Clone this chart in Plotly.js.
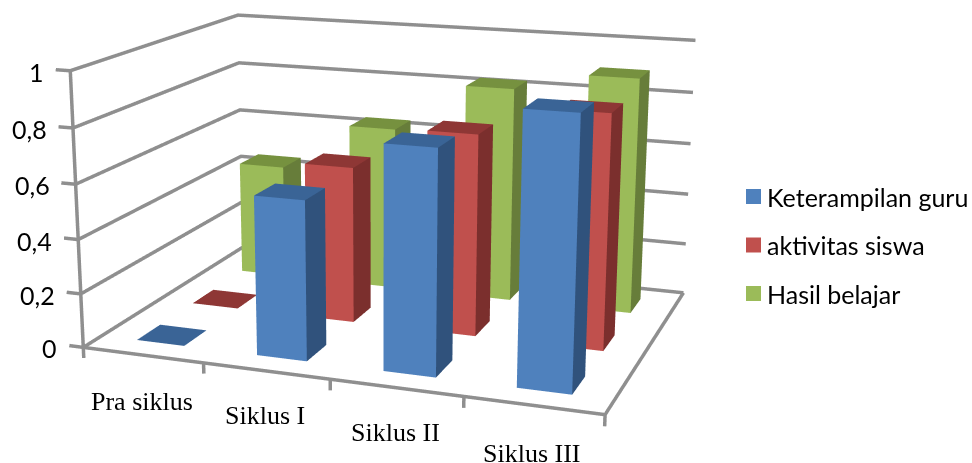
<!DOCTYPE html>
<html>
<head>
<meta charset="utf-8">
<script src="https://cdn.plot.ly/plotly-3.0.1.min.js"></script>
<style>
html,body{margin:0;padding:0;width:972px;height:463px;overflow:hidden;background:#fff}
#chart{position:absolute;left:0;top:-501px;width:972px;height:1432px}
</style>
</head>
<body>
<div id="chart"></div>
<script>
// Chart data
const categories = ['Pra siklus', 'Siklus I', 'Siklus II', 'Siklus III'];
const seriesNames = ['Keterampilan guru', 'aktivitas siswa', 'Hasil belajar'];
const keterampilanGuru = [0, 0.58, 0.80, 0.95];
const aktivitasSiswa = [0, 0.59, 0.75, 0.86];
const hasilBelajar = [0.45, 0.64, 0.83, 0.90];
const valueTicks = [0, 0.2, 0.4, 0.6, 0.8, 1];
const valueTickLabels = ['0', '0,2', '0,4', '0,6', '0,8', '1'];

// Face colours: front, side, top
const palette = [
  {front: '#4F81BD', side: '#30527C', top: '#3A6496'},
  {front: '#C0504D', side: '#7B2F2D', top: '#8E3735'},
  {front: '#9BBB59', side: '#677D3A', top: '#76913F'}
];

const BAR_HALF = 0.2;          // half of a bar's footprint, in category units
const xBox = [-0.5, 3.5], yBox = [-0.5, 2.5], zBox = [0, 1];
const xRange = [-0.62, 3.52], yRange = [-0.52, 2.52], zRange = [-0.04, 1.02];
const unit = {x: 0.923 / 4, y: 0.67 / 3, z: 0.487};   // scene size of one data unit

// One mesh of boxes per series
function barMesh(values, row, name, colors) {
  const x = [], y = [], z = [], i = [], j = [], k = [], facecolor = [];
  values.forEach((v, c) => {
    const b = x.length;
    [[c - BAR_HALF, row - BAR_HALF], [c + BAR_HALF, row - BAR_HALF],
     [c + BAR_HALF, row + BAR_HALF], [c - BAR_HALF, row + BAR_HALF]].forEach(p => {
      x.push(p[0], p[0]); y.push(p[1], p[1]); z.push(0, v);
    });
    const quad = (p, q, r, s, col) => {
      i.push(b + p, b + p); j.push(b + q, b + r); k.push(b + r, b + s);
      facecolor.push(col, col);
    };
    quad(1, 3, 5, 7, colors.top);     // top
    if (v > 0) {
      quad(0, 2, 3, 1, colors.front); // front
      quad(2, 4, 5, 3, colors.side);  // right
    }
  });
  return {
    type: 'mesh3d', name, x, y, z, i, j, k, facecolor, color: colors.front,
    flatshading: true, showlegend: false, hoverinfo: 'skip',
    lighting: {ambient: 1, diffuse: 0, specular: 0, roughness: 1, fresnel: 0}
  };
}

// Wall gridlines, axis lines and tick marks
function frameTrace() {
  const x = [], y = [], z = [];
  const seg = pts => { pts.forEach(p => { x.push(p[0]); y.push(p[1]); z.push(p[2]); }); x.push(null); y.push(null); z.push(null); };
  valueTicks.forEach(t => {
    seg([[xBox[0], yBox[0], t], [xBox[0], yBox[1], t], [xBox[1], yBox[1], t]]);
    seg([[xRange[0], yBox[0], t], [xBox[0], yBox[0], t]]);
  });
  seg([[xBox[0], yBox[0], zBox[0]], [xBox[0], yBox[0], zBox[1]]]);
  seg([[xBox[0], yBox[0], 0], [xBox[1], yBox[0], 0], [xBox[1], yBox[1], 0]]);
  for (let c = 0; c <= categories.length; c++) {
    seg([[c - 0.5, yBox[0], 0], [c - 0.5, yBox[0], zRange[0]]]);
  }
  return {
    type: 'scatter3d', mode: 'lines', x, y, z, connectgaps: false, showlegend: false, hoverinfo: 'skip',
    line: {color: '#8F8F8F', width: 7}
  };
}

// Camera: 20 degrees of rotation, 15 of elevation
const rot = 20 * Math.PI / 180, ele = 15 * Math.PI / 180;
const look = {x: -Math.sin(rot) * Math.cos(ele), y: Math.cos(rot) * Math.cos(ele), z: -Math.sin(ele)};
const eyeFromCorner = {x: 1.457, y: -2.495, z: 1};
const mid = r => (r[0] + r[1]) / 2;
const eye = {
  x: eyeFromCorner.x - (mid(xRange) - xBox[0]) * unit.x,
  y: eyeFromCorner.y - (mid(yRange) - yBox[0]) * unit.y,
  z: eyeFromCorner.z - (mid(zRange) - zBox[0]) * unit.z
};
const dist = -(eye.x * look.x + eye.y * look.y + eye.z * look.z);
const center = {x: eye.x + dist * look.x, y: eye.y + dist * look.y, z: eye.z + dist * look.z};

const valueFont = {family: 'Lato, sans-serif', size: 25, color: '#000'};
const catFont = {family: '"Liberation Serif", serif', size: 26, color: '#000'};
const legendFont = {family: 'Lato, sans-serif', size: 25, color: '#000'};
const catDrop = [-46, -45, -45, -48];

const sceneAnnotations = [
  ...valueTicks.map((t, n) => ({
    x: xBox[0], y: yBox[0], z: t, text: valueTickLabels[n], showarrow: false,
    xanchor: 'right', yanchor: 'middle', xshift: -24, yshift: -1, font: valueFont
  })),
  ...categories.map((c, n) => ({
    x: n, y: yBox[0], z: 0, text: c, showarrow: false,
    xanchor: 'center', yanchor: 'middle', xshift: -1, yshift: catDrop[n], font: catFont
  }))
];

// Legend keys and names, placed in page pixels
const pageTop = 501, chartH = 1432, chartW = 972;
const legendRows = [196.5, 245, 293.5];
const shapes = legendRows.map((py, n) => ({
  type: 'rect', xref: 'paper', yref: 'paper', line: {width: 0}, fillcolor: palette[n].front,
  x0: 746 / chartW, x1: 761 / chartW,
  y0: 1 - (py + 7.5 + pageTop) / chartH, y1: 1 - (py - 7.5 + pageTop) / chartH
}));
const legendLabels = legendRows.map((py, n) => ({
  xref: 'paper', yref: 'paper', x: 769 / chartW, y: 1 - (py + pageTop) / chartH,
  text: seriesNames[n], showarrow: false, xanchor: 'left', yanchor: 'middle',
  xshift: -4, font: legendFont
}));

const hidden = {visible: false, showspikes: false};
const data = [
  frameTrace(),
  barMesh(keterampilanGuru, 0, seriesNames[0], palette[0]),
  barMesh(aktivitasSiswa, 1, seriesNames[1], palette[1]),
  barMesh(hasilBelajar, 2, seriesNames[2], palette[2])
];
const layout = {
  width: chartW, height: chartH, margin: {l: 0, r: 0, t: 0, b: 0},
  paper_bgcolor: '#fff', hovermode: false, showlegend: false,
  shapes, annotations: legendLabels,
  scene: {
    domain: {x: [0, 760 / 972], y: [0, 1]},
    aspectmode: 'manual',
    aspectratio: {
      x: (xRange[1] - xRange[0]) * unit.x,
      y: (yRange[1] - yRange[0]) * unit.y,
      z: (zRange[1] - zRange[0]) * unit.z
    },
    camera: {eye, center, up: {x: 0, y: 0, z: 1}, projection: {type: 'perspective'}},
    xaxis: {...hidden, range: xRange},
    yaxis: {...hidden, range: yRange},
    zaxis: {...hidden, range: zRange},
    dragmode: false,
    annotations: sceneAnnotations
  }
};
Plotly.newPlot('chart', data, layout, {displayModeBar: false});
</script>
</body>
</html>
